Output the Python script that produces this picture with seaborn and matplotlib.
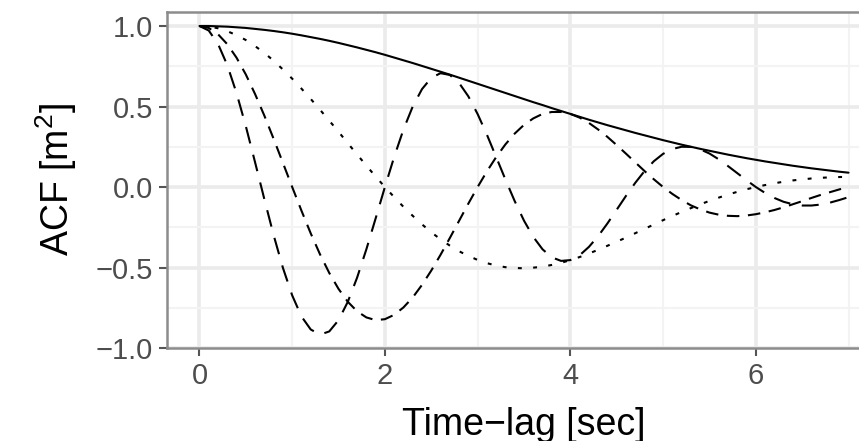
import matplotlib
matplotlib.use("Agg")
import matplotlib.pyplot as plt
from matplotlib.ticker import MultipleLocator
import pandas as pd
import seaborn as sns

lag = [0.0, 0.1, 0.2, 0.3, 0.4, 0.5, 0.6, 0.7, 0.8, 0.9,
       1.0, 1.1, 1.2, 1.3, 1.4, 1.5, 1.6, 1.7, 1.8, 1.9,
       2.0, 2.1, 2.2, 2.3, 2.4, 2.5, 2.6, 2.7, 2.8, 2.9,
       3.0, 3.1, 3.2, 3.3, 3.4, 3.5, 3.6, 3.7, 3.8, 3.9,
       4.0, 4.1, 4.2, 4.3, 4.4, 4.5, 4.6, 4.7, 4.8, 4.9,
       5.0, 5.1, 5.2, 5.3, 5.4, 5.5, 5.6, 5.7, 5.8, 5.9,
       6.0, 6.1, 6.2, 6.3, 6.4, 6.5, 6.6, 6.7, 6.8, 6.9, 7.0]

# solid envelope
envelope = [1.000, 1.000, 0.998, 0.996, 0.992, 0.988, 0.982, 0.976, 0.969, 0.961,
            0.952, 0.942, 0.931, 0.920, 0.908, 0.895, 0.881, 0.867, 0.852, 0.837,
            0.821, 0.804, 0.787, 0.770, 0.752, 0.734, 0.716, 0.698, 0.679, 0.660,
            0.641, 0.622, 0.603, 0.584, 0.565, 0.546, 0.527, 0.509, 0.490, 0.472,
            0.454, 0.436, 0.418, 0.401, 0.384, 0.368, 0.352, 0.336, 0.321, 0.306,
            0.291, 0.277, 0.263, 0.250, 0.237, 0.225, 0.213, 0.201, 0.190, 0.179,
            0.169, 0.159, 0.150, 0.141, 0.132, 0.124, 0.116, 0.109, 0.102, 0.095, 0.089]

# long dashes, deepest dip near 1.3 s
fast = [1.000, 0.972, 0.889, 0.757, 0.583, 0.378, 0.153, -0.076, -0.299, -0.502,
        -0.673, -0.804, -0.885, -0.917, -0.897, -0.827, -0.713, -0.563, -0.387, -0.195,
        0.000, 0.187, 0.357, 0.500, 0.608, 0.678, 0.707, 0.696, 0.646, 0.563,
        0.453, 0.325, 0.186, 0.046, -0.088, -0.209, -0.310, -0.387, -0.437, -0.459,
        -0.454, -0.424, -0.372, -0.305, -0.226, -0.141, -0.055, 0.026, 0.099, 0.160,
        0.206, 0.236, 0.250, 0.249, 0.234, 0.208, 0.172, 0.130, 0.086, 0.042,
        0.000, -0.037, -0.068, -0.092, -0.107, -0.115, -0.115, -0.109, -0.097, -0.081, -0.063]

# dashes, dip near 2 s
medium = [1.000, 0.988, 0.949, 0.887, 0.803, 0.699, 0.577, 0.443, 0.299, 0.150,
          0.000, -0.147, -0.288, -0.418, -0.534, -0.633, -0.713, -0.772, -0.810, -0.827,
          -0.821, -0.794, -0.748, -0.686, -0.608, -0.519, -0.421, -0.317, -0.210, -0.103,
          0.000, 0.097, 0.186, 0.265, 0.332, 0.386, 0.426, 0.454, 0.466, 0.466,
          0.454, 0.431, 0.398, 0.357, 0.311, 0.260, 0.207, 0.153, 0.099, 0.048,
          0.000, -0.043, -0.081, -0.114, -0.139, -0.159, -0.172, -0.179, -0.181, -0.177,
          -0.169, -0.157, -0.143, -0.126, -0.107, -0.088, -0.068, -0.049, -0.032, -0.015, 0.000]

# dotted, dip near 3.5 s
slow = [1.000, 0.997, 0.986, 0.968, 0.943, 0.913, 0.875, 0.833, 0.784, 0.730,
        0.673, 0.611, 0.547, 0.480, 0.412, 0.343, 0.272, 0.202, 0.133, 0.065,
        0.000, -0.063, -0.123, -0.179, -0.232, -0.281, -0.325, -0.364, -0.399, -0.428,
        -0.453, -0.473, -0.488, -0.498, -0.503, -0.505, -0.501, -0.495, -0.484, -0.471,
        -0.454, -0.435, -0.413, -0.390, -0.365, -0.340, -0.314, -0.287, -0.260, -0.233,
        -0.206, -0.180, -0.155, -0.131, -0.108, -0.086, -0.066, -0.047, -0.030, -0.014,
        0.000, 0.012, 0.023, 0.033, 0.041, 0.047, 0.053, 0.057, 0.060, 0.062, 0.063]

names = ["envelope", "fast", "medium", "slow"]
df = pd.DataFrame({
    "lag": lag * 4,
    "acf": envelope + fast + medium + slow,
    "curve": sum([[n] * len(lag) for n in names], []),
})

sns.set_theme(style="white")
plt.rcParams["font.family"] = ["Liberation Sans", "DejaVu Sans"]
plt.rcParams["lines.scale_dashes"] = False

fig = plt.figure(figsize=(8.59, 4.41), dpi=100)
ax = fig.add_axes([167 / 859, 93 / 441, 714 / 859, 336 / 441])

sns.lineplot(data=df, x="lag", y="acf", style="curve", style_order=names,
             dashes={"envelope": "", "fast": (12.2, 8.4),
                     "medium": (9.0, 6.2), "slow": (2.8, 8.2)},
             color="black", linewidth=1.5, errorbar=None, legend=False, ax=ax)

ax.set_xlim(-0.35, 7.35)
ax.set_ylim(-1.0, 1.087)
ax.xaxis.set_major_locator(MultipleLocator(2))
ax.xaxis.set_minor_locator(MultipleLocator(1))
ax.yaxis.set_major_locator(MultipleLocator(0.5))
ax.yaxis.set_minor_locator(MultipleLocator(0.25))

ax.set_axisbelow(True)
ax.grid(which="major", color="#ebebeb", linewidth=2.6)
ax.grid(which="minor", color="#f3f3f3", linewidth=1.5)
for s in ax.spines.values():
    s.set_visible(True)
    s.set_color("#8c8c8c")
    s.set_linewidth(1.8)

ax.tick_params(which="major", direction="out", length=6, width=1.5,
               color="#555555", labelcolor="#4d4d4d", labelsize=21, pad=4,
               bottom=True, left=True)
ax.tick_params(which="minor", length=0)

ax.set_xlabel("Time\u2212lag [sec]", fontsize=27, color="black", labelpad=12)
ax.set_ylabel("ACF [$\\mathregular{m^2}$]", fontsize=27, color="black", labelpad=12)

fig.savefig("out.png", dpi=100)
